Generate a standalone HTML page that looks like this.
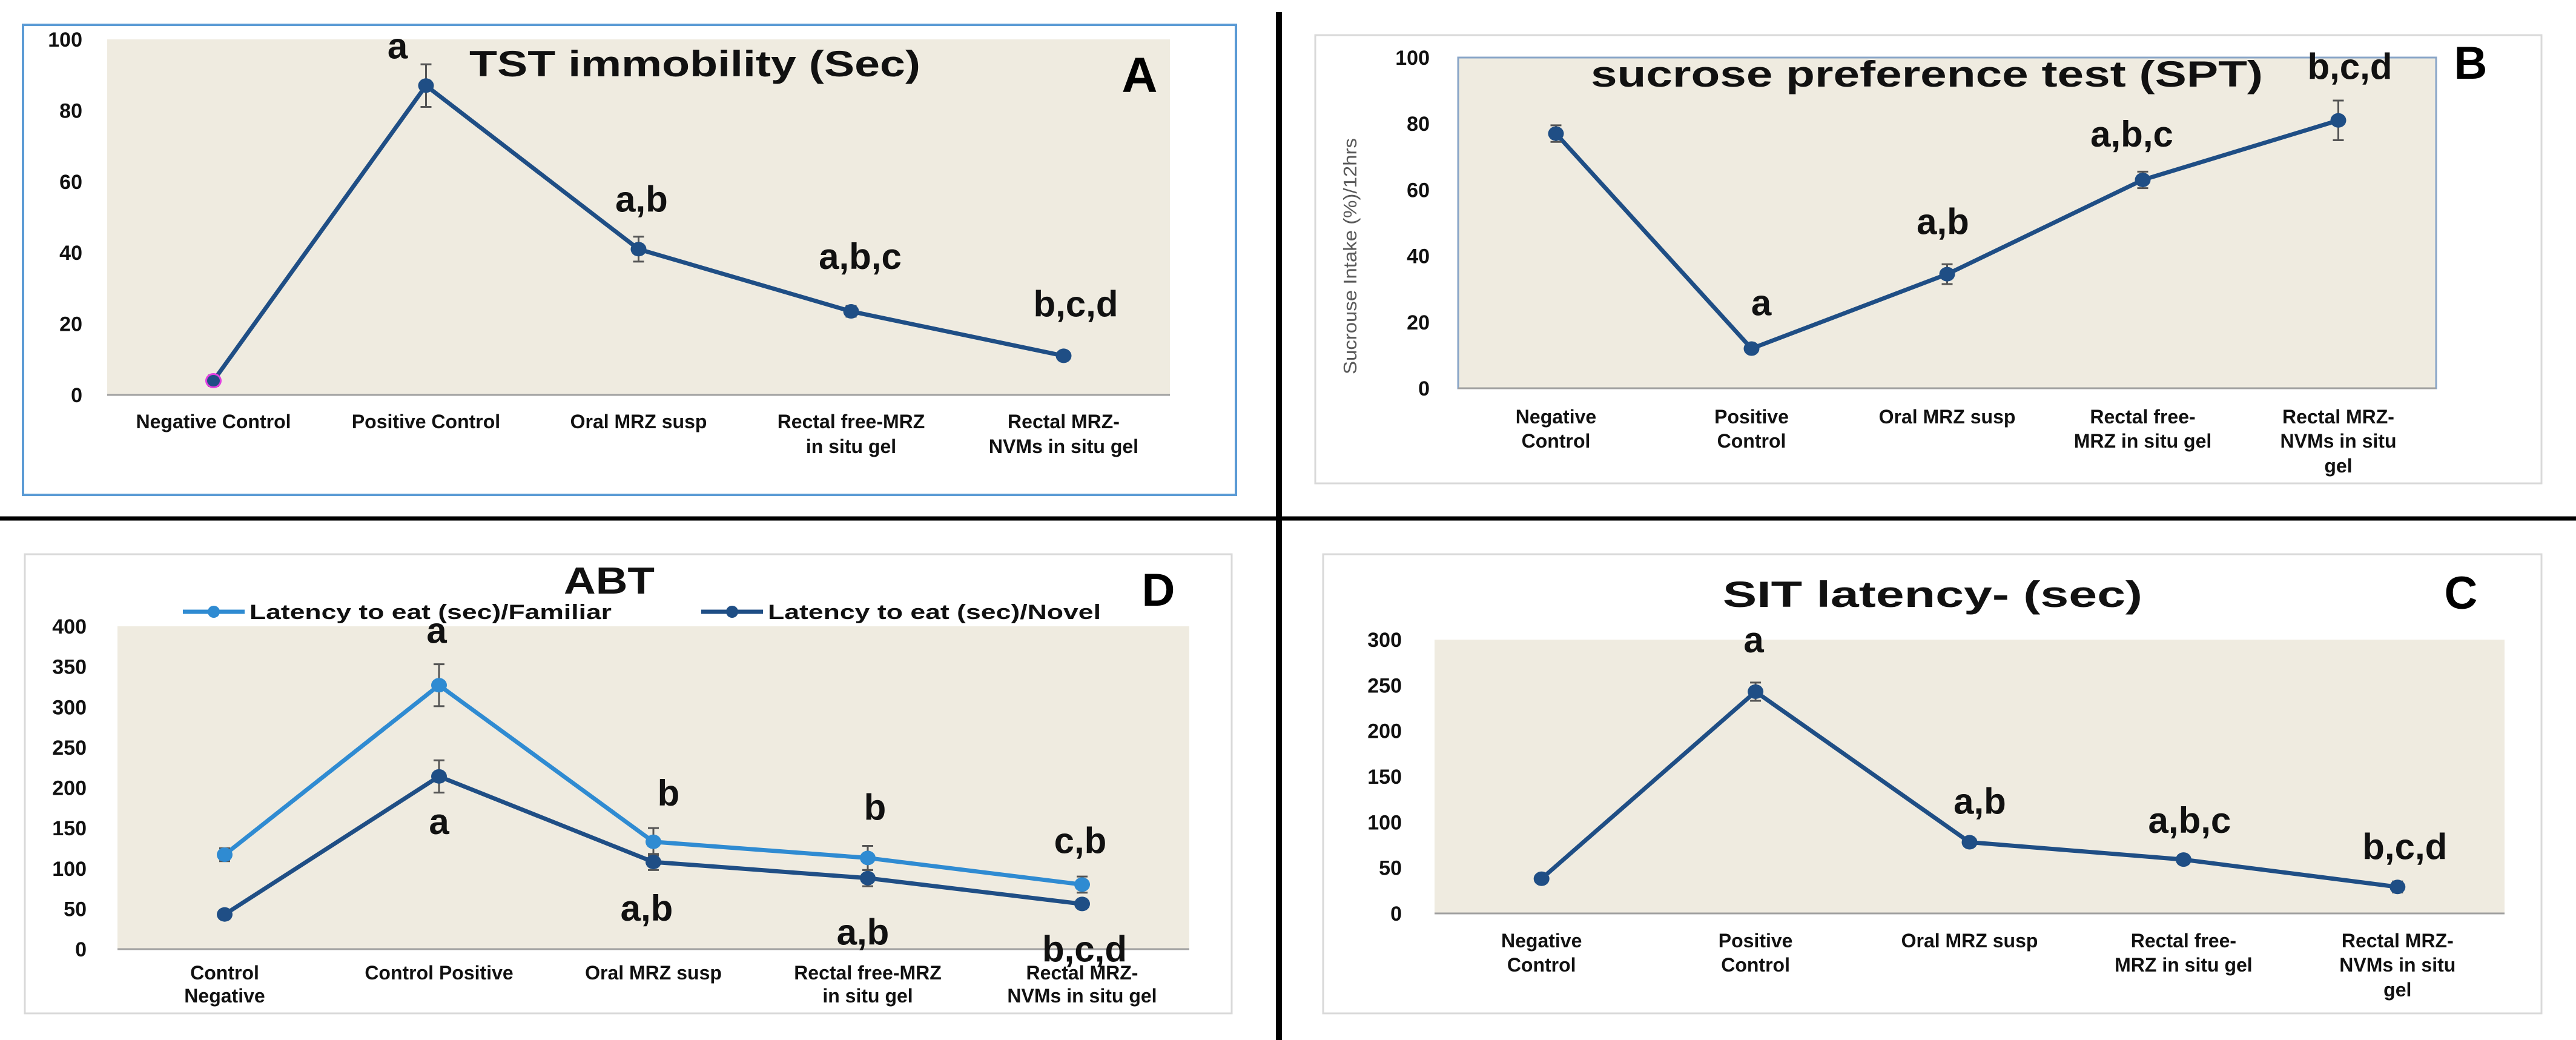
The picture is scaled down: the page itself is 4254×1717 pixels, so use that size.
<!DOCTYPE html>
<html><head><meta charset="utf-8"><style>
html,body{margin:0;padding:0;background:#fff;}
svg{display:block;}
text{font-family:"Liberation Sans",Arial,sans-serif;}
</style></head><body>
<svg id="fig" width="4254" height="1717" viewBox="0 0 4254 1717" xmlns="http://www.w3.org/2000/svg">
<rect x="0" y="0" width="4254" height="1717" fill="#fff"/>
<line x1="2112" y1="20" x2="2112" y2="1717" stroke="#000" stroke-width="10"/>
<line x1="0" y1="856" x2="4254" y2="856" stroke="#000" stroke-width="7"/>
</svg>
<script>
// ---- Panel A data ----
const catsA = [["Negative Control"],["Positive Control"],["Oral MRZ susp"],["Rectal free-MRZ","in situ gel"],["Rectal MRZ-","NVMs in situ gel"]];
const valsA = [4, 87, 41, 23.5, 11];
const errA = [1.5, 6, 3.5, 1.5, 0.8];
const sigA = ["", "a", "a,b", "a,b,c", "b,c,d"];
const ticksA = [0, 20, 40, 60, 80, 100];
// ---- Panel B data ----
const catsB = [["Negative","Control"],["Positive","Control"],["Oral MRZ susp"],["Rectal free-","MRZ in situ gel"],["Rectal MRZ-","NVMs in situ","gel"]];
const valsB = [77, 12, 34.5, 63, 81];
const errB = [2.5, 1, 3, 2.5, 6];
const sigB = ["", "a", "a,b", "a,b,c", "b,c,d"];
const ticksB = [0, 20, 40, 60, 80, 100];
// ---- Panel D data ----
const catsD = [["Control","Negative"],["Control Positive"],["Oral MRZ susp"],["Rectal free-MRZ","in situ gel"],["Rectal MRZ-","NVMs in situ gel"]];
const valsDFam = [117, 327, 133, 113, 80];
const errDFam = [8, 26, 17, 15, 10];
const valsDNov = [43, 214, 108, 88, 56];
const errDNov = [3, 20, 10, 10, 4];
const sigDFam = ["", "a", "b", "b", "c,b"];
const sigDNov = ["", "a", "a,b", "a,b", "b,c,d"];
const ticksD = [0, 50, 100, 150, 200, 250, 300, 350, 400];
// ---- Panel C data ----
const catsC = [["Negative","Control"],["Positive","Control"],["Oral MRZ susp"],["Rectal free-","MRZ in situ gel"],["Rectal MRZ-","NVMs in situ","gel"]];
const valsC = [38, 243, 78, 59, 29];
const errC = [2, 10, 5, 2, 6];
const sigC = ["", "a", "a,b", "a,b,c", "b,c,d"];
const ticksC = [0, 50, 100, 150, 200, 250, 300];

const NS = "http://www.w3.org/2000/svg";
const svg = document.getElementById('fig');
function mk(tag, attrs, parent, txt){
  const e = document.createElementNS(NS, tag);
  for (const k in attrs) e.setAttribute(k, attrs[k]);
  if (txt !== undefined) e.textContent = txt;
  (parent || svg).appendChild(e);
  return e;
}
function makeAxes(p, ymax, n){
  const y = v => p.top + (1 - v / ymax) * (p.bottom - p.top);
  const x = i => p.left + (i + 0.5) * (p.right - p.left) / n;
  return {x, y};
}
function drawFrame(g, p, ticks, cats, axes, lineYs, lab){
  const bg = mk('rect', {x:p.left, y:p.top, width:p.right-p.left, height:p.bottom-p.top, fill:'#efebe0', stroke:p.plotStroke||'none', 'stroke-width':3}, g);
  
  
  const base = mk('line', {x1:p.left, y1:p.bottom, x2:p.right, y2:p.bottom, stroke:'#a0a0a0', 'stroke-width':3}, g);
  
  
  ticks.forEach(t => {
    const tl = mk('text', {x:p.labelRight, y:axes.y(t)+12, 'text-anchor':'end', 'font-size':34, 'font-weight':'bold', fill:'#111'}, g, String(t));
    
    
  });
  cats.forEach((lines, i) => {
    lines.forEach((ln, j) => {
      const xl = mk('text', {x:axes.x(i), y:lineYs[j]+12, 'text-anchor':'middle', 'font-size':lab||32, 'font-weight':'bold', fill:'#111'}, g, ln);
      
      
    });
  });
}
function drawSeries(g, axes, vals, errs, color, name){
  const pts = vals.map((v, i) => axes.x(i) + ',' + axes.y(v)).join(' ');
  const pl = mk('polyline', {points:pts, fill:'none', stroke:color, 'stroke-width':7, 'stroke-linejoin':'round'}, g);
  
  
  vals.forEach((v, i) => {
    const cx = axes.x(i), e = errs[i];
    const eb = mk('path', {d:`M${cx},${axes.y(v+e)}V${axes.y(v-e)}M${cx-9},${axes.y(v+e)}h18M${cx-9},${axes.y(v-e)}h18`, stroke:'#555', 'stroke-width':3, fill:'none'}, g);
    
    
    const m = mk('ellipse', {cx:cx, cy:axes.y(v), rx:13, ry:12, fill:color}, g);
    
    
  });
}
function drawSig(g, axes, vals, sigs, offs, size){
  sigs.forEach((s, i) => {
    if (!s) return;
    const t = mk('text', {x:axes.x(i)+offs[i][0], y:axes.y(vals[i])+offs[i][1], 'text-anchor':'middle', 'font-size':size||60, 'font-weight':'bold', fill:'#111'}, g, s);
    
    
  });
}
function title(g, txt, x, y, w, size){
  const t = mk('text', {x:x, y:y, 'font-size':size, 'font-weight':'bold', fill:'#111', textLength:w, lengthAdjust:'spacingAndGlyphs'}, g, txt);
  
  
}
function letter(g, txt, x, y, size){
  const t = mk('text', {x:x, y:y, 'text-anchor':'middle', 'font-size':size, 'font-weight':'bold', fill:'#000'}, g, txt);
  
  
}
const DARK = '#1f4e85', LIGHT = '#2f8bd2';

// Panel A
{
  const g = mk('g', {});  
  const box = mk('rect', {x:38, y:41, width:2003, height:776, fill:'#fff', stroke:'#5b9bd5', 'stroke-width':4}, g);
   
  const p = {left:177, right:1932, top:65, bottom:652, labelRight:136};
  const ax = makeAxes(p, 100, 5);
  drawFrame(g, p, ticksA, catsA, ax, [695, 736]);
  drawSeries(g, ax, valsA, errA, DARK, 'tst-immobility');
  mk('ellipse', {cx:ax.x(0), cy:ax.y(valsA[0]), rx:12, ry:11, fill:'none', stroke:'#e040e0', 'stroke-width':3}, g);
  drawSig(g, ax, valsA, sigA, [[0,0],[-47,-45],[5,-62],[15,-70],[20,-65]]);
  title(g, 'TST immobility (Sec)', 775, 126, 745, 60);
  letter(g, 'A', 1882, 152, 82);
}
// Panel B
{
  const g = mk('g', {});  
  const box = mk('rect', {x:2172, y:58, width:2025, height:740, fill:'#fff', stroke:'#d9d9d9', 'stroke-width':3}, g);
   
  const p = {left:2408, right:4023, top:95, bottom:641, labelRight:2361, plotStroke:'#8aa6c8'};
  const ax = makeAxes(p, 100, 5);
  drawFrame(g, p, ticksB, catsB, ax, [687, 727, 768]);
  drawSeries(g, ax, valsB, errB, DARK, 'sucrose-intake');
  drawSig(g, ax, valsB, sigB, [[0,0],[16,-55],[-7,-66],[-18,-55],[19,-68]]);
  title(g, 'sucrose preference test (SPT)', 2627, 143, 1110, 60);
  letter(g, 'B', 4080, 130, 76);
  const yt = mk('text', {x:0, y:0, transform:'translate(2240,423) rotate(-90)', 'text-anchor':'middle', 'font-size':31, fill:'#595959', textLength:390, lengthAdjust:'spacingAndGlyphs'}, g, 'Sucrouse Intake (%)/12hrs');
   
}
// Panel D
{
  const g = mk('g', {});  
  const box = mk('rect', {x:41, y:915, width:1993, height:758, fill:'#fff', stroke:'#d9d9d9', 'stroke-width':3}, g);
   
  const p = {left:194, right:1964, top:1034, bottom:1567, labelRight:143};
  const ax = makeAxes(p, 400, 5);
  drawFrame(g, p, ticksD, catsD, ax, [1605, 1643]);
  drawSeries(g, ax, valsDFam, errDFam, LIGHT, 'familiar');
  drawSeries(g, ax, valsDNov, errDNov, DARK, 'novel');
  drawSig(g, ax, valsDFam, sigDFam, [[0,0],[-4,-70],[25,-60],[12,-63],[-3,-52]]);
  drawSig(g, ax, valsDNov, sigDNov, [[0,0],[0,95],[-11,97],[-8,110],[4,95]]);
  title(g, 'ABT', 931, 980, 150, 62);
  letter(g, 'D', 1913, 1000, 76);
  const lg1 = mk('g', {}, g);  
  mk('line', {x1:302, y1:1010, x2:404, y2:1010, stroke:LIGHT, 'stroke-width':7}, lg1);
  mk('circle', {cx:353, cy:1010, r:10, fill:LIGHT}, lg1);
  mk('text', {x:412, y:1022, 'font-size':34, 'font-weight':'bold', fill:'#111', textLength:598, lengthAdjust:'spacingAndGlyphs'}, lg1, 'Latency to eat (sec)/Familiar');
  const lg2 = mk('g', {}, g);  
  mk('line', {x1:1158, y1:1010, x2:1260, y2:1010, stroke:DARK, 'stroke-width':7}, lg2);
  mk('circle', {cx:1209, cy:1010, r:10, fill:DARK}, lg2);
  mk('text', {x:1268, y:1022, 'font-size':34, 'font-weight':'bold', fill:'#111', textLength:550, lengthAdjust:'spacingAndGlyphs'}, lg2, 'Latency to eat (sec)/Novel');
}
// Panel C
{
  const g = mk('g', {});  
  const box = mk('rect', {x:2185, y:915, width:2012, height:758, fill:'#fff', stroke:'#d9d9d9', 'stroke-width':3}, g);
   
  const p = {left:2369, right:4136, top:1056, bottom:1508, labelRight:2315};
  const ax = makeAxes(p, 300, 5);
  drawFrame(g, p, ticksC, catsC, ax, [1552, 1592, 1633]);
  drawSeries(g, ax, valsC, errC, DARK, 'sit-latency');
  drawSig(g, ax, valsC, sigC, [[0,0],[-3,-65],[17,-47],[10,-44],[12,-46]]);
  title(g, 'SIT latency- (sec)', 2845, 1002, 693, 60);
  letter(g, 'C', 4064, 1005, 76);
}
</script>
</body></html>
